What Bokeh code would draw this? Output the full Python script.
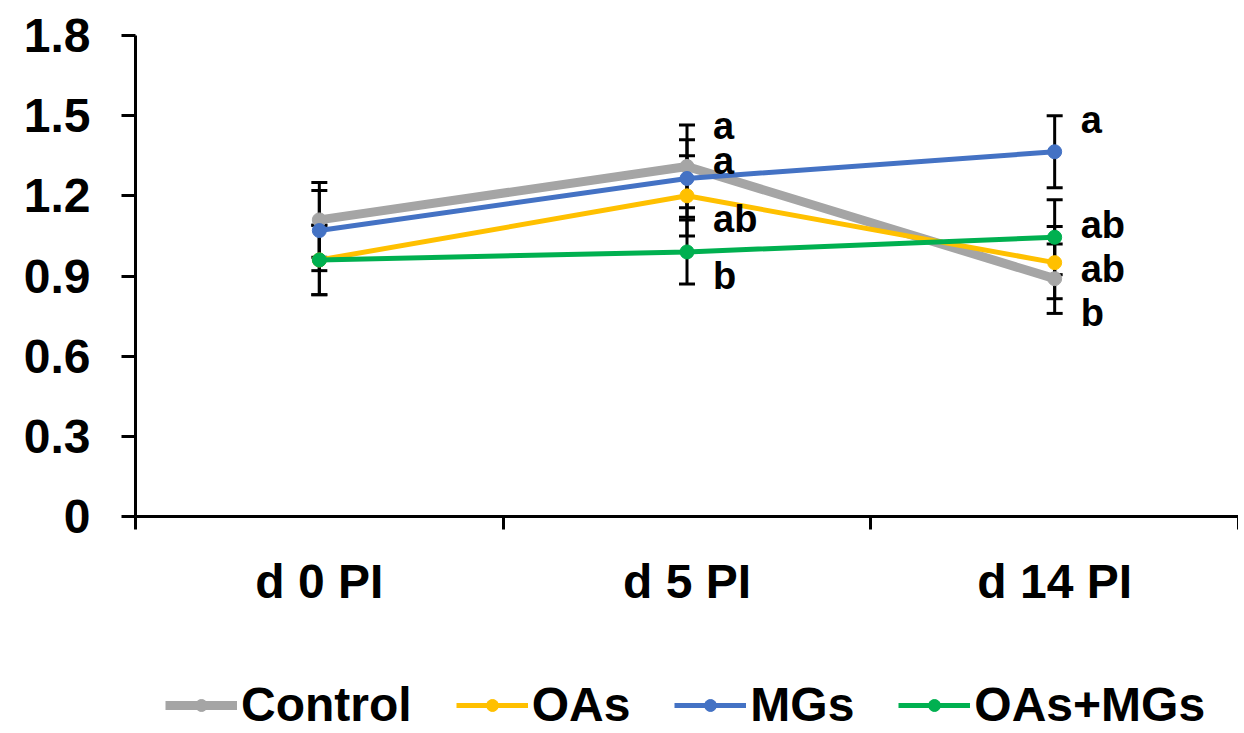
import numpy as np
from bokeh.plotting import figure
from bokeh.layouts import column
from bokeh.models import (ColumnDataSource, Whisker, TeeHead, FixedTicker, Legend,
                          LegendItem, Range1d)
from bokeh.core.properties import value
from bokeh.embed import file_html
from bokeh.resources import INLINE

# ---------------- data ----------------
categories = ["d 0 PI", "d 5 PI", "d 14 PI"]
series_names = ["Control", "OAs", "MGs", "OAs+MGs"]

control = [1.11, 1.31, 0.89]
control_err = [0.14, 0.155, 0.13]
oas = [0.96, 1.20, 0.95]
oas_err = [0.13, 0.15, 0.135]
mgs = [1.07, 1.265, 1.365]
mgs_err = [0.15, 0.145, 0.135]
combo = [0.96, 0.99, 1.045]
combo_err = [0.13, 0.12, 0.14]

y_ticks = [0, 0.3, 0.6, 0.9, 1.2, 1.5, 1.8]
y_tick_labels = ["0", "0.3", "0.6", "0.9", "1.2", "1.5", "1.8"]

# significance letters: category index, y value, letter
letter_cat = [1, 1, 1, 1, 2, 2, 2, 2]
letter_y = [1.463, 1.332, 1.115, 0.90, 1.482, 1.089, 0.928, 0.763]
letter_txt = ["a", "a", "ab", "b", "a", "ab", "ab", "b"]

colors = ["#a5a5a5", "#ffc000", "#4472c4", "#00b050"]
widths = [9, 5, 5, 5]

FONT = "Liberation Sans"

# ---------------- main figure ----------------
p = figure(frame_width=1103, frame_height=481,
           min_border_left=135, min_border_right=0, min_border_top=35, min_border_bottom=160,
           x_range=Range1d(0, 3), y_range=Range1d(0, 1.8),
           output_backend="svg", toolbar_location=None)
p.outline_line_color = None
p.xgrid.visible = False
p.ygrid.visible = False

xpos = np.arange(len(categories)) + 0.5

# y axis
yax = p.yaxis[0]
yax.ticker = FixedTicker(ticks=y_ticks, minor_ticks=[])
yax.major_label_overrides = {t: l for t, l in zip(y_ticks, y_tick_labels)}
yax.axis_line_width = 3
yax.axis_line_color = "black"
yax.major_tick_line_width = 3
yax.major_tick_line_color = "black"
yax.major_tick_in = 0
yax.major_tick_out = 14
yax.minor_tick_line_color = None
yax.major_label_standoff = 31
yax.major_label_text_font = FONT
yax.major_label_text_font_style = "bold"
yax.major_label_text_font_size = "48px"
yax.major_label_text_color = "black"

# x axis
xax = p.xaxis[0]
xax.ticker = FixedTicker(ticks=list(xpos), minor_ticks=[0, 1, 2, 3])
xax.major_label_overrides = {float(x): c for x, c in zip(xpos, categories)}
xax.axis_line_width = 3
xax.axis_line_color = "black"
xax.major_tick_line_color = None
xax.major_tick_in = 0
xax.major_tick_out = 0
xax.minor_tick_line_color = "black"
xax.minor_tick_line_width = 3
xax.minor_tick_in = 0
xax.minor_tick_out = 13
xax.major_label_standoff = 25
xax.major_label_text_font = FONT
xax.major_label_text_font_style = "bold"
xax.major_label_text_font_size = "48px"
xax.major_label_text_color = "black"

# ---------------- series ----------------
all_vals = [control, oas, mgs, combo]
all_errs = [control_err, oas_err, mgs_err, combo_err]

for vals, errs in zip(all_vals, all_errs):
    v = np.array(vals)
    e = np.array(errs)
    src = ColumnDataSource(dict(x=xpos, upper=v + e, lower=v - e))
    w = Whisker(base="x", upper="upper", lower="lower", source=src,
                line_color="black", line_width=3,
                upper_head=TeeHead(size=16, line_width=3, line_color="black"),
                lower_head=TeeHead(size=16, line_width=3, line_color="black"))
    p.add_layout(w)

for name, vals, col, lw in zip(series_names, all_vals, colors, widths):
    src = ColumnDataSource(dict(x=xpos, y=vals))
    p.line("x", "y", source=src, line_color=col, line_width=lw)
    p.scatter("x", "y", source=src, size=14, marker="circle",
              fill_color=col, line_color=col)

# letters
lsrc = ColumnDataSource(dict(x=[xpos[i] for i in letter_cat], y=letter_y, t=letter_txt))
p.text("x", "y", text="t", source=lsrc, x_offset=26, text_align="left",
       text_baseline="middle", text_font=value(FONT), text_font_style="bold",
       text_font_size="38px", text_color="black")

# ---------------- legend strip ----------------
p2 = figure(width=1238, height=57, x_range=Range1d(0, 1), y_range=Range1d(0, 1),
            x_axis_location=None, y_axis_location=None,
            min_border_left=0, min_border_right=0, min_border_top=0, min_border_bottom=0,
            output_backend="svg", toolbar_location=None)
p2.outline_line_color = None
p2.grid.visible = False

items = []
for name, col, lw in zip(series_names, colors, widths):
    dsrc = ColumnDataSource(dict(x=[5.0], y=[5.0]))
    ln = p2.line("x", "y", source=dsrc, line_color=col, line_width=lw)
    mk = p2.scatter("x", "y", source=dsrc, size=12, marker="circle",
                    fill_color=col, line_color=col)
    items.append(LegendItem(label=name, renderers=[ln, mk]))

legend = Legend(items=items, orientation="horizontal", location=(30, 1),
                label_text_font=FONT, label_text_font_style="bold",
                label_text_font_size="48px", label_text_color="black",
                glyph_width=72, glyph_height=30, label_standoff=4, spacing=44,
                padding=0, margin=0, border_line_color=None,
                background_fill_alpha=0)
p2.add_layout(legend, "center")

layout = column(p, p2, spacing=0)
open("out.html", "w").write(file_html(layout, INLINE))
